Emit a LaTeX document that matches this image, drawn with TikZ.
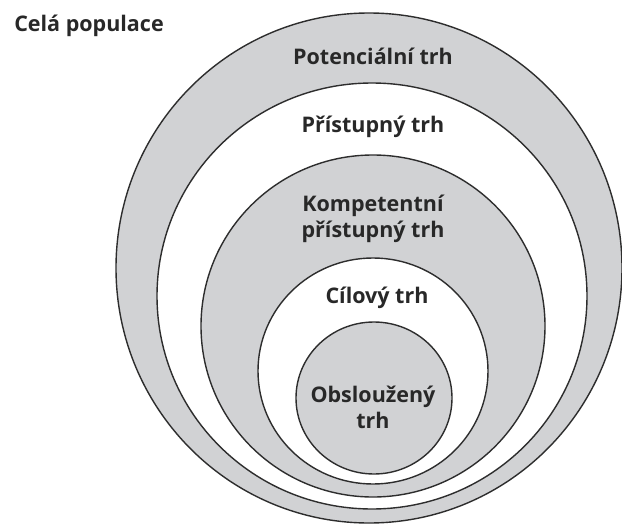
\documentclass[tikz,border=0pt]{standalone}
\usepackage{fontspec}
\setmainfont{Open Sans}
\definecolor{fillg}{RGB}{209,210,212}
\definecolor{linec}{RGB}{45,45,45}
\definecolor{txt}{RGB}{40,40,40}
\begin{document}
\begin{tikzpicture}[x=1pt,y=-1pt,
  ring/.style={draw=linec, line width=1.4pt},
  lbl/.style={font=\bfseries\fontsize{21.5}{26}\selectfont, text=txt, align=center, inner sep=0pt}]
\useasboundingbox (0,0) rectangle (622,525);
\fill[white] (0,0) rectangle (622,525);
\draw[ring, fill=fillg] (369,268) ellipse [x radius=253, y radius=255];
\draw[ring, fill=white] (372,296) ellipse [x radius=215, y radius=213];
\draw[ring, fill=fillg] (373,326) ellipse [x radius=172, y radius=171];
\draw[ring, fill=white] (373,371) ellipse [x radius=115, y radius=113];
\draw[ring, fill=fillg] (374,398) ellipse [x radius=78, y radius=76];
\node[lbl] (cela) at (89,26) {Celá populace};
\node[lbl] (pot) at (373,56) {Potenciální trh};
\node[lbl] (pri) at (373,127) {Přístupný trh};
\node[lbl] (komp) at (373,219) {Kompetentní\\přístupný trh};
\node[lbl] (cil) at (377,298) {Cílový trh};
\node[lbl] (obs) at (373,407) {Obsloužený\\trh};
\end{tikzpicture}
\end{document}
